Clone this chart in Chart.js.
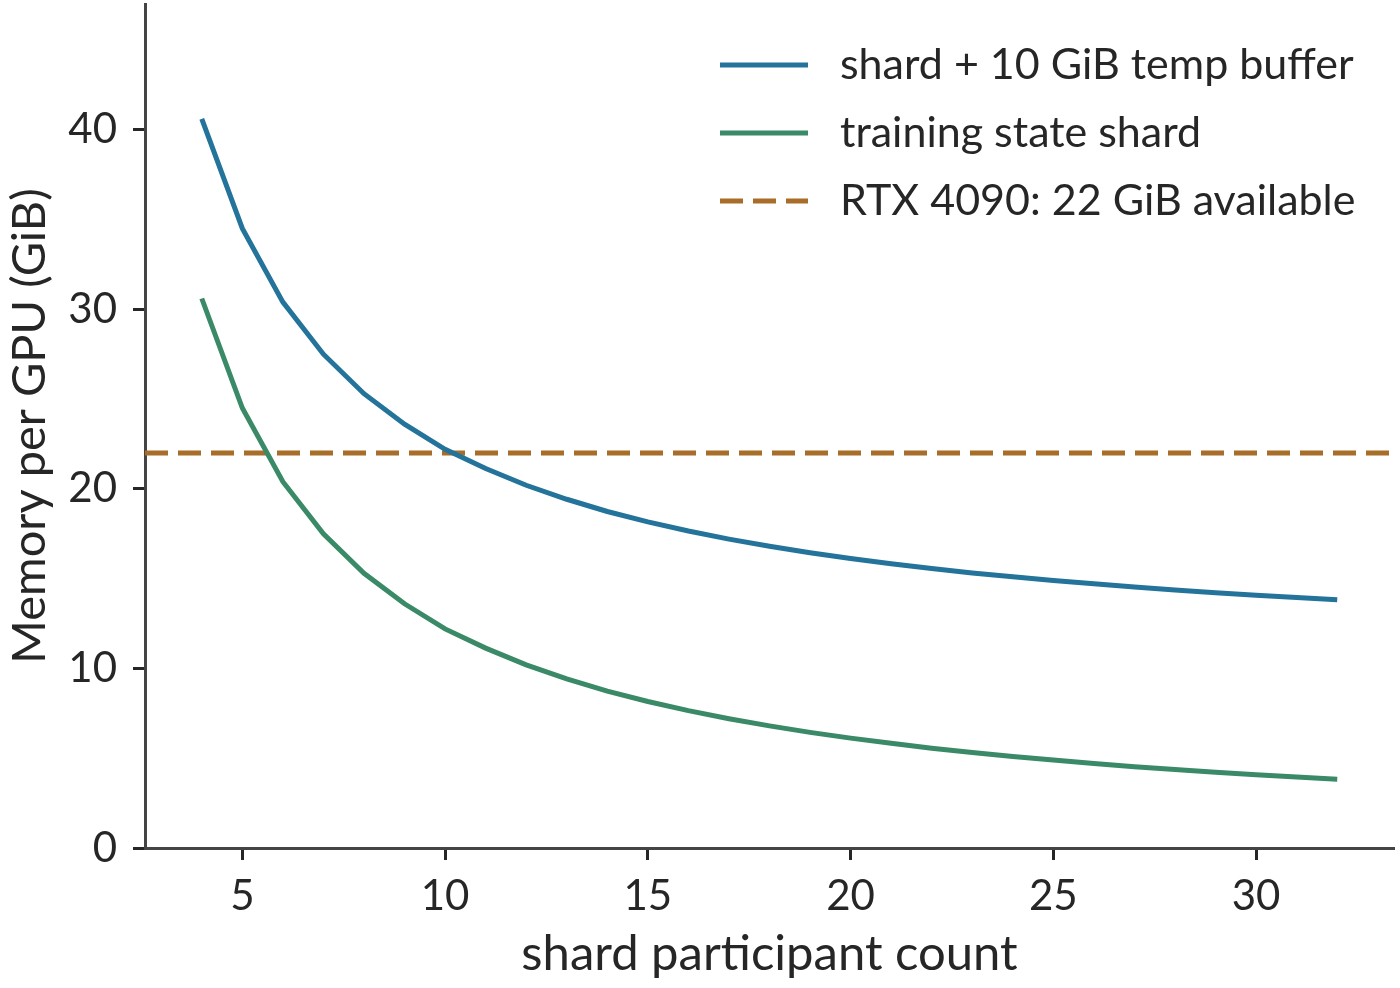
<!DOCTYPE html>
<html lang="en">
<head>
    <meta charset="UTF-8">
    <title>Memory per GPU vs shard participant count</title>
    <script src="https://cdn.jsdelivr.net/npm/chart.js"></script>
    <style>
        body {
            margin: 0;
            background: #ffffff;
        }
        .wrap {
            width: 1400px;
            height: 988px;
        }
    </style>
</head>
<body>
    <div class="wrap"><canvas id="memChart" width="1400" height="988"></canvas></div>

    <script>
        // values
        const participants = [4, 5, 6, 7, 8, 9, 10, 11, 12, 13, 14, 15, 16, 17, 18, 19, 20, 21, 22, 23, 24, 25, 26, 27, 28, 29, 30, 31, 32];
        const shardGiB = [30.6, 24.5, 20.4, 17.5, 15.3, 13.6, 12.2, 11.13, 10.2, 9.42, 8.74, 8.16, 7.65, 7.2, 6.8, 6.44, 6.12, 5.83, 5.56, 5.32, 5.1, 4.9, 4.71, 4.53, 4.37, 4.22, 4.08, 3.95, 3.83];
        const withBufferGiB = [40.6, 34.5, 30.4, 27.5, 25.3, 23.6, 22.2, 21.13, 20.2, 19.42, 18.74, 18.16, 17.65, 17.2, 16.8, 16.44, 16.12, 15.83, 15.56, 15.32, 15.1, 14.9, 14.71, 14.53, 14.37, 14.22, 14.08, 13.95, 13.83];
        const availableGiB = 22;
        const xRange = [2.6, 33.4];
        const yRange = [0, 47];
        const xTicks = [5, 10, 15, 20, 25, 30];
        const yTicks = [0, 10, 20, 30, 40];
        const seriesLabels = ["shard + 10 GiB temp buffer", "training state shard", "RTX 4090: 22 GiB available"];

        const FONT = "Lato, 'Noto Sans', sans-serif";
        const INK = "#262626";

        function toPoints(xs, ys) {
            return xs.map((x, i) => ({ x: x, y: ys[i] }));
        }

        // legend drawn inside the plot, top right
        const insideLegend = {
            id: "insideLegend",
            afterDraw(chart) {
                const ctx = chart.ctx;
                ctx.save();
                ctx.font = "43px " + FONT;
                ctx.fillStyle = INK;
                ctx.textBaseline = "middle";
                chart.data.datasets.forEach((ds, i) => {
                    const y = 65 + i * 68;
                    ctx.strokeStyle = ds.borderColor;
                    ctx.lineWidth = ds.borderWidth;
                    ctx.setLineDash(ds.borderDash || []);
                    ctx.beginPath();
                    ctx.moveTo(720, y);
                    ctx.lineTo(808, y);
                    ctx.stroke();
                    ctx.setLineDash([]);
                    ctx.fillText(ds.label, 840, y);
                });
                ctx.restore();
            }
        };

        const memChart = new Chart(document.getElementById("memChart"), {
            type: "line",
            data: {
                datasets: [
                    {
                        label: seriesLabels[0],
                        data: toPoints(participants, withBufferGiB),
                        borderColor: "#24739a",
                        borderWidth: 5,
                        pointRadius: 0,
                        tension: 0
                    },
                    {
                        label: seriesLabels[1],
                        data: toPoints(participants, shardGiB),
                        borderColor: "#3a8a68",
                        borderWidth: 5,
                        pointRadius: 0,
                        tension: 0
                    },
                    {
                        label: seriesLabels[2],
                        data: toPoints(xRange, [availableGiB, availableGiB]),
                        borderColor: "#a86d29",
                        borderWidth: 5,
                        borderDash: [23, 10],
                        pointRadius: 0
                    }
                ]
            },
            options: {
                responsive: false,
                animation: false,
                devicePixelRatio: 1,
                layout: { padding: { top: 4, right: 6, bottom: 0, left: 0 } },
                plugins: {
                    legend: { display: false },
                    tooltip: { enabled: false }
                },
                scales: {
                    x: {
                        type: "linear",
                        min: xRange[0],
                        max: xRange[1],
                        afterBuildTicks: (scale) => { scale.ticks = xTicks.map(v => ({ value: v })); },
                        afterFit: (scale) => {
                            scale.height = 140;
                            scale.paddingLeft = 0;
                            scale.paddingRight = 0;
                        },
                        grid: { drawOnChartArea: false, tickLength: 12, tickWidth: 3, tickColor: "#262626" },
                        border: { color: "#444444", width: 3 },
                        ticks: { color: INK, font: { family: FONT, size: 42 }, padding: 11, maxRotation: 0 },
                        title: {
                            display: true,
                            text: "shard participant count",
                            color: INK,
                            font: { family: FONT, size: 49 },
                            padding: { top: 0, bottom: 4 }
                        }
                    },
                    y: {
                        min: yRange[0],
                        max: yRange[1],
                        afterBuildTicks: (scale) => { scale.ticks = yTicks.map(v => ({ value: v })); },
                        afterFit: (scale) => {
                            scale.width = 145;
                            scale.paddingTop = 0;
                            scale.paddingBottom = 0;
                        },
                        grid: { drawOnChartArea: false, tickLength: 12, tickWidth: 3, tickColor: "#262626" },
                        border: { color: "#444444", width: 3 },
                        ticks: { color: INK, font: { family: FONT, size: 42 }, padding: 16 },
                        title: {
                            display: true,
                            text: "Memory per GPU (GiB)",
                            color: INK,
                            font: { family: FONT, size: 47 },
                            padding: { top: 2, bottom: 0 }
                        }
                    }
                }
            },
            plugins: [insideLegend]
        });
    </script>
</body>
</html>
